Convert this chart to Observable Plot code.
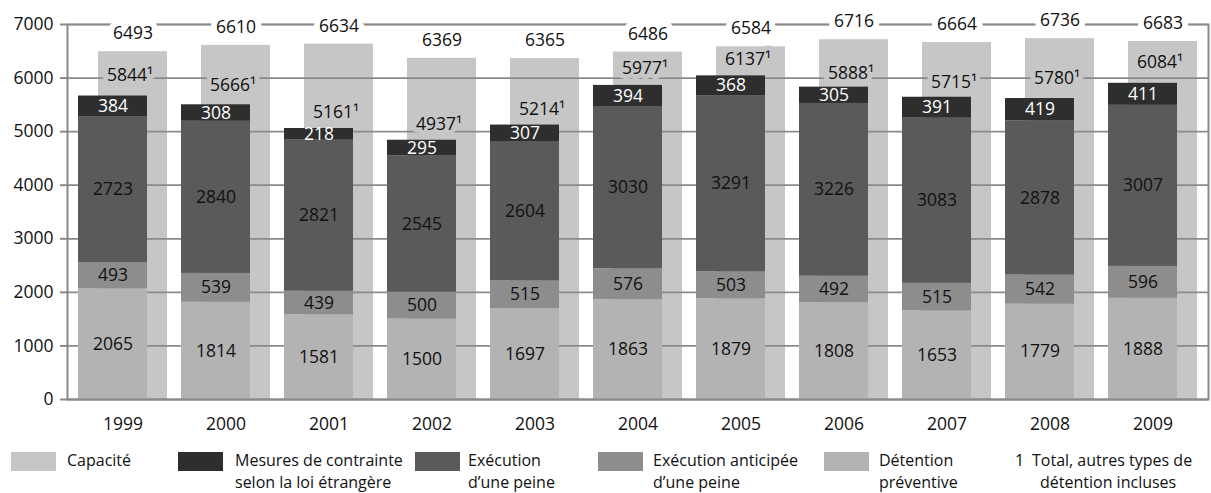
<!DOCTYPE html>
<html><head><meta charset="utf-8">
<script src="https://cdn.jsdelivr.net/npm/d3@7"></script>
<script src="https://cdn.jsdelivr.net/npm/@observablehq/plot@0.6"></script>
<style>
body{margin:0;background:#fff;font-family:"Open Sans",sans-serif;color:#111;}
#chart{width:1211px;height:493px;position:relative;overflow:hidden;}
#chart svg{display:block;}
.legend{position:relative;height:53px;font-size:16px;line-height:22px;}
.sw{position:absolute;top:12px;width:45px;height:19px;}
.lt{position:absolute;top:9px;white-space:nowrap;}
</style></head><body>
<div id="chart"></div>
<script>
const years = ["1999","2000","2001","2002","2003","2004","2005","2006","2007","2008","2009"];
const capacite = [6493,6610,6634,6369,6365,6486,6584,6716,6664,6736,6683];
const totals = [5844,5666,5161,4937,5214,5977,6137,5888,5715,5780,6084];
const preventive = [2065,1814,1581,1500,1697,1863,1879,1808,1653,1779,1888];
const anticipee = [493,539,439,500,515,576,503,492,515,542,596];
const execution = [2723,2840,2821,2545,2604,3030,3291,3226,3083,2878,3007];
const mesures = [384,308,218,295,307,394,368,305,391,419,411];
const seriesNames = ["Détention préventive","Exécution anticipée d’une peine","Exécution d’une peine","Mesures de contrainte selon la loi étrangère"];
const seriesColors = ["#b3b3b3","#8d8d8d","#5a5a5a","#2e2e2e"];
const capColor = "#c6c6c6";
const yTicks = [0,1000,2000,3000,4000,5000,6000,7000];
const legendLabels = ["Capacité","Mesures de contrainte<br>selon la loi étrangère","Exécution<br>d’une peine","Exécution anticipée<br>d’une peine","Détention<br>préventive"];
const legendColors = [capColor,"#2e2e2e","#5a5a5a","#8d8d8d","#b3b3b3"];
const footnote = ["1","Total, autres types de","détention incluses"];

const seriesValues = [preventive, anticipee, execution, mesures];
const capRows = years.map((y,i)=>({year:y, value:capacite[i]}));
const totRows = years.map((y,i)=>({year:y, value:totals[i]}));
const stackRows = [];
years.forEach((y,i)=>{
  let c = 0;
  seriesValues.forEach((arr,s)=>{
    const v = arr[i];
    stackRows.push({year:y, series:seriesNames[s], value:v, y1:c, y2:c+v, mid:c+v/2, top:s===3});
    c += v;
  });
});

const grey = "#8a8a8a";
const chart = Plot.plot({
  width:1211, height:440, marginTop:24, marginBottom:41, marginLeft:67, marginRight:3,
  style:{fontFamily:"Open Sans", fontSize:"17.5px", color:"#111", background:"#fff", overflow:"visible"},
  x:{type:"band", domain:years, paddingInner:0.1346, paddingOuter:0.0673, align:0.5, label:null},
  y:{domain:[0,7000], label:null},
  color:{domain:seriesNames, range:seriesColors},
  marks:[
    Plot.barY(capRows, {x:"year", y:"value", fill:capColor, insetLeft:20}),
    Plot.frame({stroke:grey, strokeWidth:2}),
    Plot.ruleY(yTicks.slice(1), {stroke:grey, strokeWidth:1.7}),
    Plot.axisY({ticks:yTicks, tickSize:7, tickPadding:7, stroke:grey, strokeWidth:2, tickFormat:d=>String(d), label:null}),
    Plot.axisX({tickSize:0, tickPadding:18, label:null}),
    Plot.text(capRows, {x:"year", y:"value", text:d=>String(d.value), dx:10, dy:-18, fill:"#111", stroke:"#fff", strokeWidth:12, strokeLinejoin:"round", paintOrder:"stroke"}),
    Plot.text(totRows, {x:"year", y:"value", text:d=>d.value+"¹", dx:7, dy:-11, fill:"#111", stroke:capColor, strokeWidth:10, strokeLinejoin:"round", paintOrder:"stroke"}),
    Plot.barY(stackRows, {x:"year", y1:"y1", y2:"y2", fill:"series", insetRight:20}),
    Plot.text(stackRows.filter(d=>!d.top), {x:"year", y:"mid", text:d=>String(d.value), dx:-10, fill:"#111"}),
    Plot.text(stackRows.filter(d=>d.top), {x:"year", y:"mid", text:d=>String(d.value), dx:-10, fill:"#fff"}),
    Plot.ruleY([0], {stroke:grey, strokeWidth:2})
  ]
});
const root = document.getElementById("chart");
root.appendChild(chart);

const legend = document.createElement("div");
legend.className = "legend";
const swLeft = [11,178,415,598,824];
const txLeft = [67,235,468,653,879];
legendLabels.forEach((lab,i)=>{
  const sw = document.createElement("div");
  sw.className="sw"; sw.style.left=swLeft[i]+"px"; sw.style.background=legendColors[i];
  legend.appendChild(sw);
  const t = document.createElement("div");
  t.className="lt"; t.style.left=txLeft[i]+"px"; t.innerHTML=lab;
  legend.appendChild(t);
});
const f1 = document.createElement("div"); f1.className="lt"; f1.style.left="1015px"; f1.textContent=footnote[0]; legend.appendChild(f1);
const f2 = document.createElement("div"); f2.className="lt"; f2.style.left="1032px"; f2.textContent=footnote[1]; legend.appendChild(f2);
const f3 = document.createElement("div"); f3.className="lt"; f3.style.left="1040px"; f3.style.top="31px"; f3.textContent=footnote[2]; legend.appendChild(f3);
root.appendChild(legend);
</script>
</body></html>
